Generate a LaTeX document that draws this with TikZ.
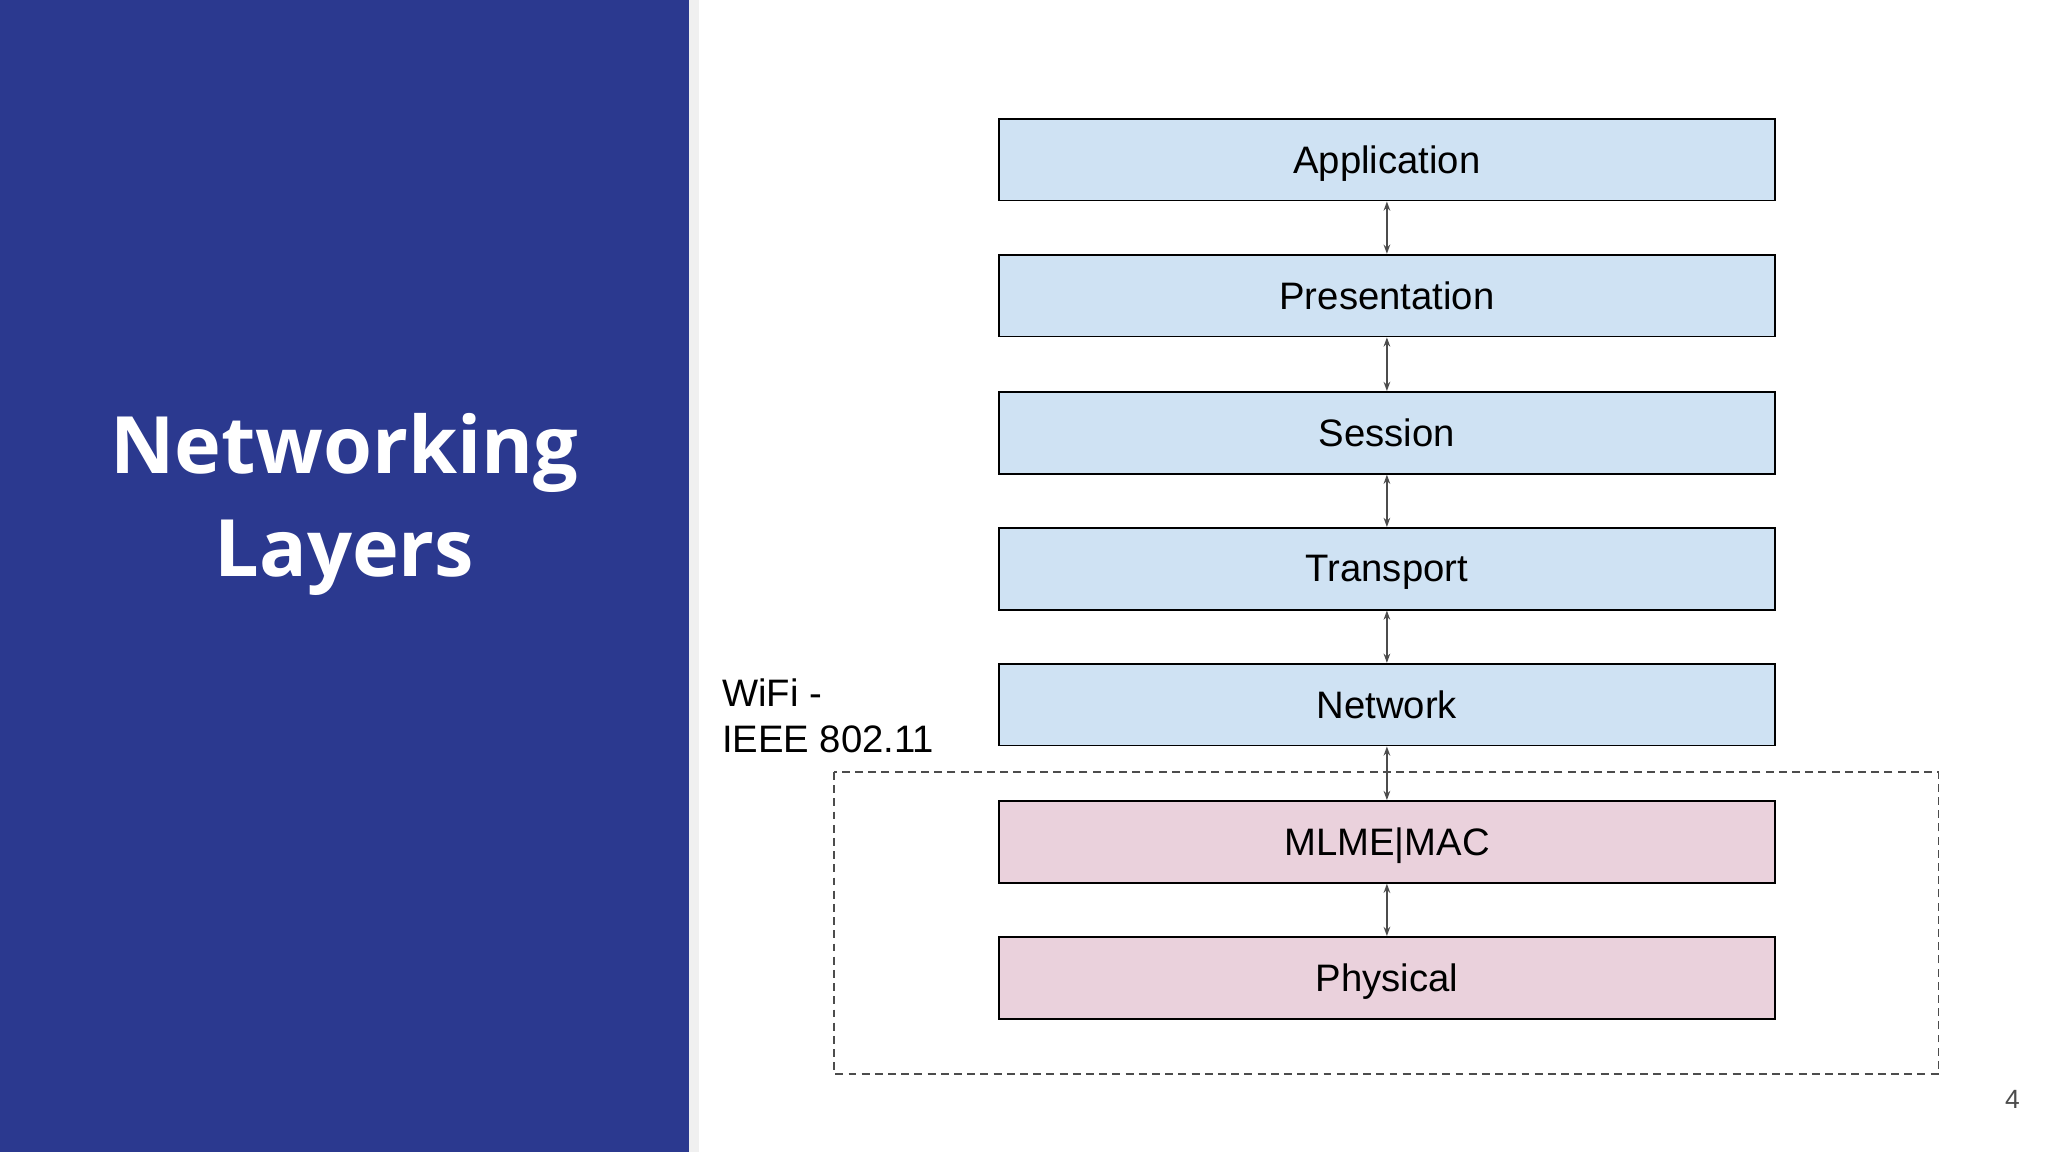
\documentclass[tikz,border=0pt]{standalone}
\usepackage{fontspec}
\setmainfont{Liberation Sans}
\newfontfamily\titlefont{Open Sans}
\usetikzlibrary{arrows.meta}
\definecolor{panel}{RGB}{43,57,143}
\definecolor{layerblue}{RGB}{207,226,243}
\definecolor{layerpink}{RGB}{234,209,220}
\tikzset{
  layer/.style={draw=black, line width=1.3pt, minimum width=588pt, minimum height=62pt,
    inner sep=0pt, text depth=0pt, font=\fontsize{29}{35}\selectfont},
  link/.style={draw=black!70, line width=1.3pt, {Stealth[length=7pt,width=5pt]}-{Stealth[length=7pt,width=5pt]}}
}
\begin{document}
\begin{tikzpicture}[x=1pt,y=-1pt]
\useasboundingbox (0,0) rectangle (1552,873);
\fill[white] (0,0) rectangle (1552,873);
\fill[black!6] (522,0) rectangle (530,873);
\fill[panel] (0,0) rectangle (522,873);
\node[text=white, font=\titlefont\bfseries\fontsize{60}{78}\selectfont, align=center] (title) at (261,382) {Networking\\Layers};

\node[layer, fill=layerblue] (app) at (1051,121) {Application};
\node[layer, fill=layerblue] (pres) at (1051,224) {Presentation};
\node[layer, fill=layerblue] (sess) at (1051,328) {Session};
\node[layer, fill=layerblue] (trans) at (1051,431) {Transport};
\node[layer, fill=layerblue] (net) at (1051,534) {Network};
\node[layer, fill=layerpink] (mac) at (1051,638) {MLME|MAC};
\node[layer, fill=layerpink] (phy) at (1051,741) {Physical};

\draw[link] (app) -- (pres);
\draw[link] (pres) -- (sess);
\draw[link] (sess) -- (trans);
\draw[link] (trans) -- (net);
\draw[link] (net) -- (mac);
\draw[link] (mac) -- (phy);

\draw[black!70, line width=1.3pt, dash pattern=on 6pt off 4pt] (632,585) rectangle (1469,814);
\node[anchor=north west, align=left, inner sep=0pt, font=\fontsize{29}{35}\selectfont] (wifi) at (547,514) {WiFi -\\IEEE 802.11};
\node[text=black!70, font=\fontsize{20}{24}\selectfont] (page) at (1525,833) {4};
\end{tikzpicture}
\end{document}
